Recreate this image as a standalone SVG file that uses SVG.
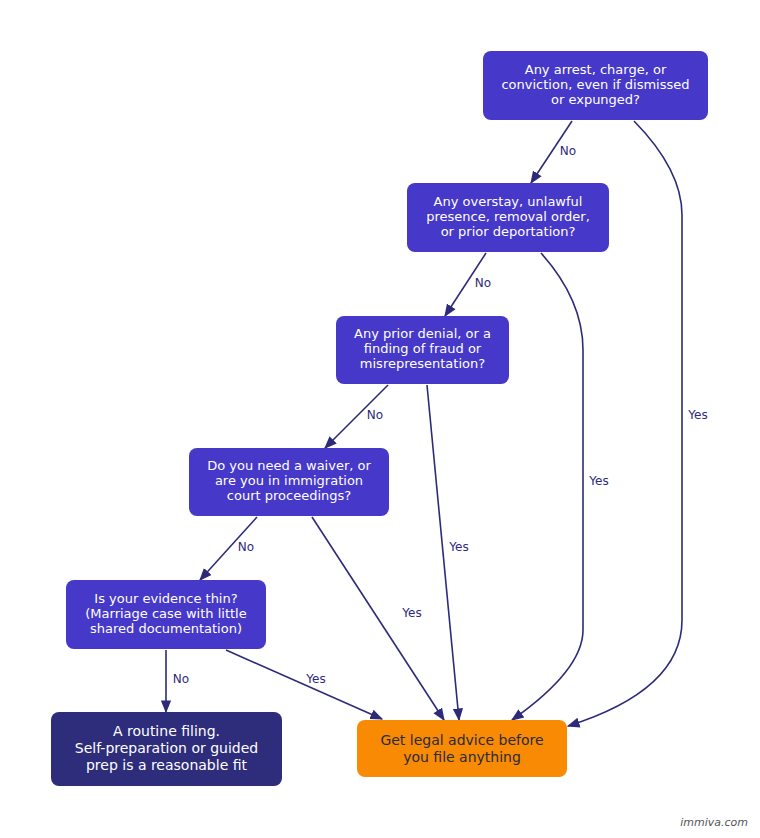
<svg xmlns="http://www.w3.org/2000/svg" width="760" height="838" viewBox="0 0 760 838">
<style>
text{font-family:"DejaVu Sans","Liberation Sans",sans-serif}
.q{fill:#4638c8}
.qt{fill:#fff;font-size:13px;text-anchor:middle}
.e{fill:none;stroke:#2e2a7a;stroke-width:1.6;marker-end:url(#a)}
.l{fill:#2e2a7a;font-size:12px;text-anchor:middle}
</style>
<defs><marker id="a" viewBox="0 0 10 10" refX="9" refY="5" markerWidth="8" markerHeight="8" orient="auto"><path d="M0,1 L10,5 L0,9 z" fill="#2e2a7a"/></marker></defs>
<rect width="760" height="838" fill="#fff"/>
<g id="connectors">
<path class="e" d="M572,121 L531,183"/><text class="l" x="568" y="155">No</text>
<path class="e" d="M634,121 Q682,170 682,215 L682,620 Q682,690 568,726"/><text class="l" x="698" y="419">Yes</text>
<path class="e" d="M486,253 L445,316"/><text class="l" x="483" y="287">No</text>
<path class="e" d="M541,253 Q583,300 583,350 L583,630 Q583,670 512,720"/><text class="l" x="599" y="485">Yes</text>
<path class="e" d="M388,385 L325,448"/><text class="l" x="375" y="419">No</text>
<path class="e" d="M427,385 L459,720"/><text class="l" x="459" y="551">Yes</text>
<path class="e" d="M257,517 L200,580"/><text class="l" x="246" y="551">No</text>
<path class="e" d="M312,517 L444,720"/><text class="l" x="412" y="617">Yes</text>
<path class="e" d="M166,650 L166,712"/><text class="l" x="181" y="683">No</text>
<path class="e" d="M226,650 L382,719"/><text class="l" x="316" y="683">Yes</text>
</g>
<g id="n1"><rect class="q" x="483" y="51" width="225" height="69" rx="8"/><text class="qt" x="595.5" y="74">Any arrest, charge, or</text><text class="qt" x="595.5" y="89">conviction, even if dismissed</text><text class="qt" x="595.5" y="104">or expunged?</text></g>
<g id="n2"><rect class="q" x="407" y="183" width="202" height="69" rx="8"/><text class="qt" x="508" y="206">Any overstay, unlawful</text><text class="qt" x="508" y="221">presence, removal order,</text><text class="qt" x="508" y="236">or prior deportation?</text></g>
<g id="n3"><rect class="q" x="336" y="316" width="173" height="68" rx="8"/><text class="qt" x="422.5" y="338">Any prior denial, or a</text><text class="qt" x="422.5" y="353">finding of fraud or</text><text class="qt" x="422.5" y="368">misrepresentation?</text></g>
<g id="n4"><rect class="q" x="189" y="448" width="200" height="68" rx="8"/><text class="qt" x="289" y="470">Do you need a waiver, or</text><text class="qt" x="289" y="485">are you in immigration</text><text class="qt" x="289" y="500">court proceedings?</text></g>
<g id="n5"><rect class="q" x="66" y="580" width="200" height="69" rx="8"/><text class="qt" x="166" y="603">Is your evidence thin?</text><text class="qt" x="166" y="618">(Marriage case with little</text><text class="qt" x="166" y="633">shared documentation)</text></g>
<g id="n6"><rect x="51" y="712" width="231" height="74" rx="8" fill="#2e2d7b"/><text class="qt" style="font-size:14px" x="166.5" y="736">A routine filing.</text><text class="qt" style="font-size:14px" x="166.5" y="753">Self-preparation or guided</text><text class="qt" style="font-size:14px" x="166.5" y="770">prep is a reasonable fit</text></g>
<g id="n7"><rect x="357" y="720" width="210" height="57" rx="8" fill="#f88a04"/><text class="qt" style="font-size:14px;fill:#2b2b3a" x="462" y="745">Get legal advice before</text><text class="qt" style="font-size:14px;fill:#2b2b3a" x="462" y="762">you file anything</text></g>
<text x="748" y="826" style="font-size:11px;font-style:italic;fill:#555;text-anchor:end">immiva.com</text>
</svg>
